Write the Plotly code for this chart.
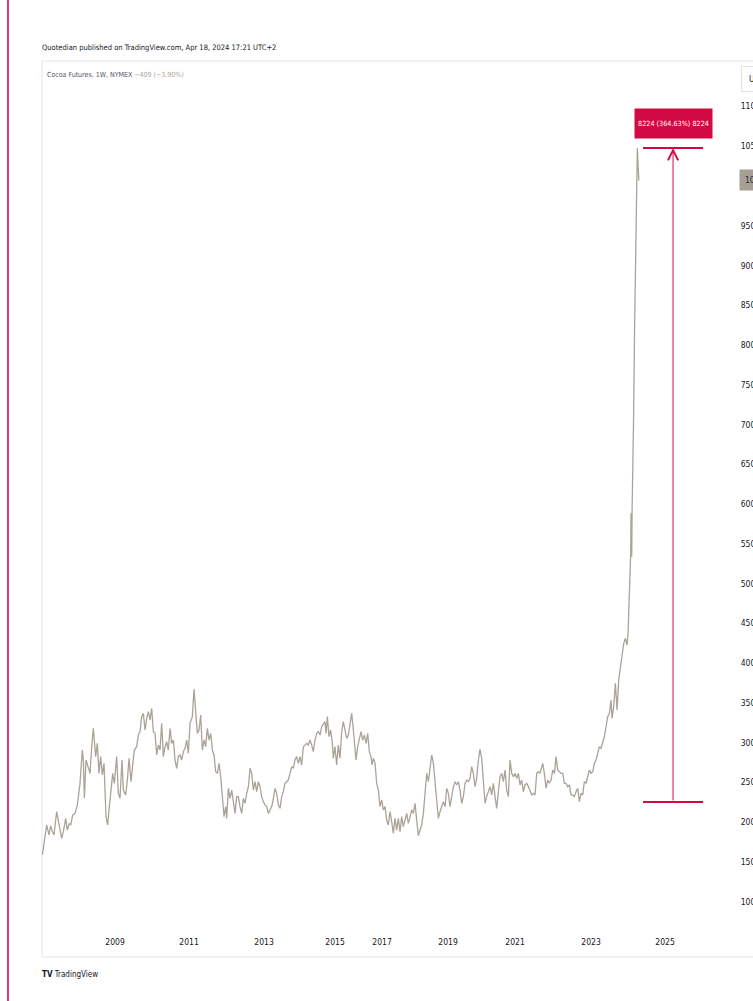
import plotly.graph_objects as go

# ---------------- data ----------------
# x positions are expressed on the chart's time scale in decimal years
T = [
    2006.886, 2006.934, 2007.012, 2007.080, 2007.128, 2007.177, 2007.225, 2007.303, 2007.371, 2007.448,
    2007.497, 2007.565, 2007.613, 2007.671, 2007.710, 2007.768, 2007.836, 2007.904, 2007.982, 2008.049,
    2008.079, 2008.108, 2008.156, 2008.224, 2008.273, 2008.321, 2008.369, 2008.437, 2008.486, 2008.534,
    2008.583, 2008.631, 2008.680, 2008.738, 2008.786, 2008.835, 2008.883, 2008.932, 2008.980, 2009.048,
    2009.097, 2009.145, 2009.203, 2009.242, 2009.310, 2009.359, 2009.407, 2009.465, 2009.514, 2009.562,
    2009.630, 2009.679, 2009.727, 2009.776, 2009.824, 2009.873, 2009.921, 2009.969, 2010.018, 2010.066,
    2010.115, 2010.163, 2010.212, 2010.260, 2010.309, 2010.357, 2010.406, 2010.454, 2010.503, 2010.551,
    2010.600, 2010.648, 2010.697, 2010.745, 2010.794, 2010.842, 2010.891, 2010.939, 2010.988, 2011.036,
    2011.085, 2011.133, 2011.182, 2011.249, 2011.298, 2011.346, 2011.395, 2011.443, 2011.492, 2011.540,
    2011.589, 2011.637, 2011.686, 2011.734, 2011.783, 2011.831, 2011.880, 2011.928, 2011.977, 2012.025,
    2012.074, 2012.122, 2012.171, 2012.219, 2012.248, 2012.297, 2012.345, 2012.394, 2012.442, 2012.491,
    2012.539, 2012.588, 2012.636, 2012.685, 2012.733, 2012.782, 2012.830, 2012.879, 2012.927, 2012.976,
    2013.024, 2013.073, 2013.121, 2013.170, 2013.218, 2013.266, 2013.315, 2013.363, 2013.412, 2013.460,
    2013.509, 2013.557, 2013.606, 2013.654, 2013.703, 2013.751, 2013.799, 2013.847, 2013.896, 2013.944,
    2013.993, 2014.041, 2014.090, 2014.138, 2014.187, 2014.235, 2014.284, 2014.332, 2014.381, 2014.429,
    2014.478, 2014.526, 2014.575, 2014.623, 2014.672, 2014.720, 2014.769, 2014.817, 2014.866, 2014.914,
    2014.963, 2015.011, 2015.060, 2015.108, 2015.137, 2015.176, 2015.224, 2015.273, 2015.321, 2015.350,
    2015.399, 2015.447, 2015.496, 2015.544, 2015.593, 2015.641, 2015.690, 2015.738, 2015.787, 2015.835,
    2015.884, 2015.932, 2015.981, 2016.010, 2016.058, 2016.107, 2016.155, 2016.204, 2016.252, 2016.301,
    2016.349, 2016.398, 2016.446, 2016.475, 2016.514, 2016.563, 2016.611, 2016.660, 2016.708, 2016.757,
    2016.805, 2016.854, 2016.902, 2016.950, 2016.999, 2017.047, 2017.096, 2017.144, 2017.193, 2017.241,
    2017.290, 2017.338, 2017.387, 2017.435, 2017.484, 2017.532, 2017.581, 2017.629, 2017.678, 2017.726,
    2017.775, 2017.823, 2017.872, 2017.920, 2017.969, 2018.017, 2018.066, 2018.114, 2018.163, 2018.211,
    2018.260, 2018.308, 2018.357, 2018.405, 2018.454, 2018.502, 2018.551, 2018.599, 2018.648, 2018.696,
    2018.745, 2018.793, 2018.842, 2018.890, 2018.939, 2018.987, 2019.036, 2019.084, 2019.132, 2019.181,
    2019.229, 2019.278, 2019.326, 2019.375, 2019.423, 2019.472, 2019.520, 2019.569, 2019.617, 2019.666,
    2019.714, 2019.763, 2019.811, 2019.860, 2019.908, 2019.957, 2020.005, 2020.054, 2020.102, 2020.151,
    2020.199, 2020.248, 2020.296, 2020.345, 2020.393, 2020.442, 2020.490, 2020.539, 2020.587, 2020.636,
    2020.684, 2020.733, 2020.781, 2020.829, 2020.878, 2020.926, 2020.975, 2021.023, 2021.072, 2021.120,
    2021.169, 2021.217, 2021.266, 2021.314, 2021.363, 2021.411, 2021.440, 2021.489, 2021.537, 2021.586,
    2021.634, 2021.683, 2021.731, 2021.780, 2021.828, 2021.877, 2021.925, 2021.974, 2022.022, 2022.071,
    2022.119, 2022.167, 2022.216, 2022.264, 2022.313, 2022.361, 2022.410, 2022.458, 2022.507, 2022.555,
    2022.604, 2022.652, 2022.701, 2022.749, 2022.798, 2022.846, 2022.895, 2022.943, 2022.992, 2023.040,
    2023.089, 2023.137, 2023.186, 2023.234, 2023.283, 2023.331, 2023.380, 2023.428, 2023.457, 2023.506,
    2023.554, 2023.603, 2023.651, 2023.700, 2023.748, 2023.797, 2023.845, 2023.894, 2023.923, 2023.942,
    2023.981, 2024.000, 2024.010, 2024.029, 2024.039, 2024.058, 2024.083, 2024.112, 2024.141, 2024.155,
    2024.170, 2024.193, 2024.214, 2024.237,
]

PRICE = [
    1587, 1734, 1964, 1839, 1952, 1881, 1839, 2132, 1985, 1797,
    1881, 2048, 1901, 1985, 1964, 2090, 2111, 2216, 2488, 2907,
    2782, 2300, 2782, 2698, 2614, 2949, 3180, 2824, 2991, 2614,
    2824, 2593, 2740, 2069, 1964, 2195, 2404, 2614, 2488, 2824,
    2363, 2300, 2782, 2404, 2342, 2530, 2803, 2509, 2719, 2907,
    2949, 3096, 3138, 3327, 3369, 3159, 3306, 3390, 3285, 3431,
    3138, 3117, 2845, 2970, 2907, 3243, 2824, 2949, 3012, 2907,
    3180, 2991, 3033, 2782, 2677, 2824, 2845, 2782, 2887, 2928,
    3033, 2866, 3243, 3327, 3670, 3327, 3117, 3159, 3348, 2907,
    3033, 2949, 3180, 3033, 3117, 2907, 2845, 2635, 2614, 2740,
    2572, 2321, 2069, 2195, 2048, 2425, 2300, 2404, 2258, 2111,
    2321, 2321, 2195, 2111, 2300, 2237, 2363, 2446, 2677, 2614,
    2404, 2509, 2384, 2509, 2446, 2321, 2258, 2216, 2195, 2111,
    2153, 2195, 2300, 2425, 2363, 2216, 2174, 2321, 2384, 2488,
    2509, 2530, 2614, 2698, 2677, 2782, 2824, 2740, 2824, 2719,
    2949, 2970, 2991, 2970, 3033, 2970, 2887, 3033, 3117, 3138,
    3096, 3201, 3243, 3264, 3117, 3327, 3075, 3159, 2991, 2803,
    2949, 2719, 2970, 2803, 3138, 3264, 3159, 3054, 3096, 3222,
    3369, 3159, 2907, 2782, 2949, 3054, 3138, 3033, 3096, 2991,
    3117, 2887, 2824, 2719, 2803, 2740, 2488, 2404, 2195, 2279,
    2153, 2195, 2027, 1964, 2132, 2006, 1860, 2048, 1901, 2048,
    1881, 2069, 1943, 2027, 2111, 1985, 2090, 2153, 2111, 2237,
    2027, 1830, 1901, 1964, 2111, 2321, 2614, 2509, 2719, 2845,
    2740, 2488, 2195, 2048, 2132, 2195, 2258, 2195, 2425, 2363,
    2195, 2321, 2446, 2509, 2467, 2509, 2404, 2237, 2321, 2488,
    2530, 2509, 2551, 2698, 2614, 2446, 2551, 2782, 2916, 2803,
    2488, 2237, 2321, 2384, 2446, 2342, 2488, 2321, 2174, 2384,
    2572, 2614, 2509, 2656, 2404, 2321, 2782, 2614, 2572, 2614,
    2551, 2614, 2467, 2530, 2384, 2468, 2489, 2447, 2384, 2342,
    2363, 2342, 2614, 2635, 2614, 2698, 2740, 2614, 2426, 2530,
    2489, 2530, 2656, 2614, 2824, 2656, 2635, 2614, 2614, 2489,
    2489, 2447, 2468, 2342, 2342, 2321, 2384, 2426, 2258, 2363,
    2342, 2510, 2489, 2572, 2656, 2614, 2635, 2740, 2782, 2866,
    2950, 2929, 3013, 3077, 3201, 3327, 3369, 3536, 3306, 3453,
    3746, 3411, 3788, 3956, 4123, 4249, 4312, 4228, 4375, 4626,
    5171, 5381, 5884, 5339, 5884, 6303, 7057, 8189, 9069, 9761,
    10013, 10479, 10265, 10070,
]

X_TICK_POS = [2009.0, 2011.153, 2013.335, 2015.4, 2016.767, 2018.687, 2020.636, 2022.847, 2025.0]
X_TICK_TEXT = ["2009", "2011", "2013", "2015", "2017", "2019", "2021", "2023", "2025"]

Y_TICKS = list(range(1000, 11001, 500))
Y_TICK_TEXT = ["" if v == 10000 else str(v) for v in Y_TICKS]

RANGE_LOW = 2255
RANGE_HIGH = 10479
RANGE_X = [2024.359, 2025.232, 2026.105]   # left, middle, right of the price-range tool
RANGE_TEXT = "8224 (364.63%) 8224"

LAST_PRICE = 10070
CHANGE_TEXT = "\u2212409 (\u22123.90%)"

HEADER = "Quotedian published on TradingView.com, Apr 18, 2024 17:21 UTC+2"
SYMBOL = "Cocoa Futures, 1W, NYMEX"

# ---------------- styling ----------------
FONT = "DejaVu Sans Condensed, Liberation Sans Narrow, Liberation Sans, sans-serif"
LINE_COLOR = "#aaa398"
RED = "#d20a43"
TEXT = "#131722"

fig = go.Figure()
fig.add_trace(go.Scatter(
    x=T, y=PRICE, mode="lines",
    line=dict(color=LINE_COLOR, width=1.3),
    hoverinfo="skip", showlegend=False,
))

fig.update_layout(
    width=753, height=1001,
    margin=dict(l=42, r=25, t=61, b=71, autoexpand=False),
    paper_bgcolor="white", plot_bgcolor="white",
    font=dict(family=FONT, color=TEXT, size=8),
    showlegend=False,
    xaxis=dict(
        range=[2006.876, 2026.83], showgrid=False, zeroline=False, showline=False,
        automargin=False,
        tickmode="array", tickvals=X_TICK_POS, ticktext=X_TICK_TEXT,
        ticks="outside", ticklen=4, tickcolor="rgba(0,0,0,0)",
        tickfont=dict(family=FONT, size=8.5, color=TEXT),
    ),
    yaxis=dict(
        range=[644, 11572], side="right", showgrid=False, zeroline=False, showline=False,
        automargin=False,
        tickmode="array", tickvals=Y_TICKS, ticktext=Y_TICK_TEXT,
        ticks="outside", ticklen=10, tickcolor="rgba(0,0,0,0)",
        tickfont=dict(family=FONT, size=8.5, color=TEXT),
    ),
)

shapes = [
    # chart pane frame
    dict(type="rect", xref="paper", yref="paper", x0=0, x1=1.4, y0=-0.031, y1=1.0,
         line=dict(color="#e3e5ea", width=1), fillcolor="rgba(0,0,0,0)", layer="below"),
    # red margin line at left
    dict(type="line", xref="paper", yref="paper", x0=-0.0496, x1=-0.0496, y0=-0.2, y1=1.2,
         line=dict(color="#e23a68", width=2)),
    # price range tool: top and bottom bars
    dict(type="line", xref="x", yref="y", x0=RANGE_X[0], x1=RANGE_X[2], y0=RANGE_HIGH, y1=RANGE_HIGH,
         line=dict(color=RED, width=2)),
    dict(type="line", xref="x", yref="y", x0=RANGE_X[0], x1=RANGE_X[2], y0=RANGE_LOW, y1=RANGE_LOW,
         line=dict(color=RED, width=2)),
]
fig.update_layout(shapes=shapes)

annotations = [
    # vertical arrow of the range tool
    dict(x=RANGE_X[1], y=RANGE_HIGH, ax=RANGE_X[1], ay=RANGE_LOW, xref="x", yref="y",
         axref="x", ayref="y", text="", showarrow=True, arrowhead=5, arrowsize=2,
         arrowwidth=1, arrowcolor=RED),
    # range tool label
    dict(x=RANGE_X[1], y=RANGE_HIGH, xref="x", yref="y", yanchor="bottom", yshift=9,
         text=RANGE_TEXT, showarrow=False, bgcolor=RED, width=75, height=27, borderpad=1,
         font=dict(family=FONT, size=7.2, color="white")),
    # last price tag
    dict(x=1, xref="paper", xanchor="left", xshift=11, y=LAST_PRICE, yref="y", yanchor="middle",
         text=str(LAST_PRICE), showarrow=False, bgcolor="#a69f95", borderpad=5,
         font=dict(family=FONT, size=8.5, color="#2a2e39")),
    # currency button
    dict(x=1, xref="paper", xanchor="left", xshift=13, y=(930 - 79) / 869, yref="paper",
         yanchor="middle",
         text="USD", showarrow=False, bgcolor="white", bordercolor="#e0e3eb",
         borderwidth=1, borderpad=7, font=dict(family=FONT, size=8.5, color=TEXT)),
    # header line
    dict(x=0, xref="paper", xanchor="left", xshift=-2, y=1, yref="paper", yanchor="middle", yshift=14,
         text=HEADER, showarrow=False, font=dict(family=FONT, size=7.5, color=TEXT)),
    # symbol line
    dict(x=0, xref="paper", xanchor="left", xshift=3, y=1, yref="paper", yanchor="middle", yshift=-14,
         text=SYMBOL + ' <span style="color:#aaa398">' + CHANGE_TEXT + "</span>",
         showarrow=False, font=dict(family=FONT, size=7, color="#50535e")),
    # TradingView logo
    dict(x=0, xref="paper", xanchor="left", xshift=-2, y=0, yref="paper", yanchor="middle", yshift=-44,
         text="<b>TV</b> TradingView", showarrow=False,
         font=dict(family=FONT, size=8, color=TEXT)),
]
fig.update_layout(annotations=annotations)

fig.write_html("out.html", config={"displayModeBar": False},
               post_script="document.body.style.margin='0';")
